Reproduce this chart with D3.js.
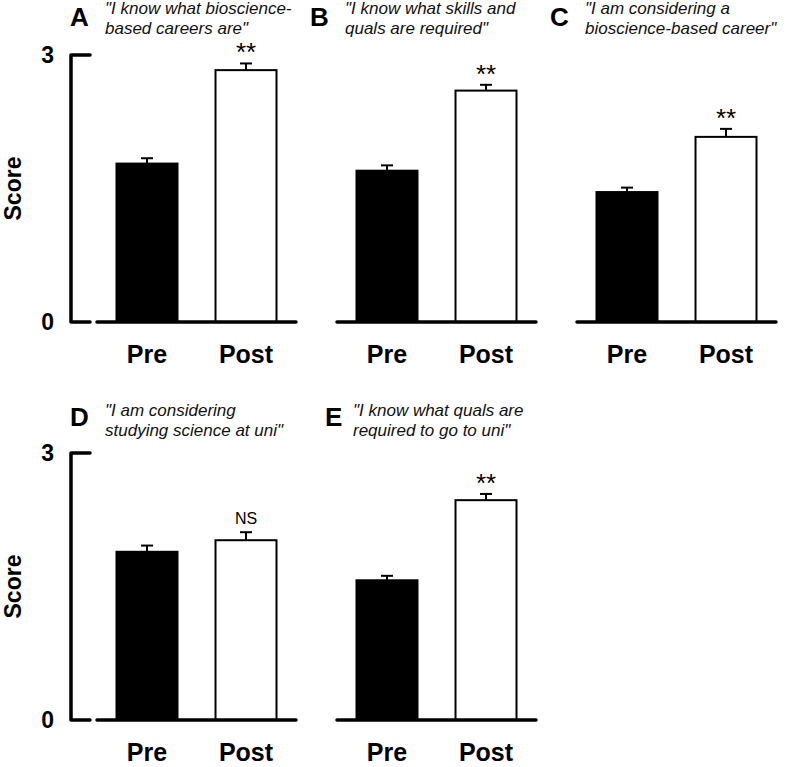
<!DOCTYPE html>
<html>
<head>
<meta charset="utf-8">
<script src="https://cdnjs.cloudflare.com/ajax/libs/d3/7.8.5/d3.min.js"></script>
<style>
  body { margin: 0; background: #fff; }
  text { font-family: "Liberation Sans", Arial, sans-serif; }
</style>
</head>
<body>
<svg id="chart" width="790" height="767"></svg>
<script>
// chart values
var panels = ["A", "B", "C", "D", "E"];
var quotes = [
    ["\"I know what bioscience-", "based careers are\""],
    ["\"I know what skills and", "quals are required\""],
    ["\"I am considering a", "bioscience-based career\""],
    ["\"I am considering", "studying science at uni\""],
    ["\"I know what quals are", "required to go to uni\""]
];
var groups = ["Pre", "Post"];
var preMean = [1.78, 1.70, 1.46, 1.89, 1.57];
var preErr = [0.06, 0.06, 0.05, 0.07, 0.05];
var postMean = [2.83, 2.60, 2.08, 2.02, 2.47];
var postErr = [0.075, 0.065, 0.09, 0.09, 0.07];
var signif = ["**", "**", "**", "NS", "**"];
var yTicks = [0, 3];

var svg = d3.select("#chart");

var colStep = 240, rowStep = 398;

function drawPanel(i) {
    var col = i < 3 ? i : i - 3;
    var row = i < 3 ? 0 : 1;
    var ox = col * colStep;
    var oy = row * rowStep;
    var g = svg.append("g").attr("transform", "translate(" + ox + "," + oy + ")");

    var y = d3.scaleLinear().domain([0, 3]).range([322, 55]);
    var x = d3.scaleBand().domain(groups).range([96, 297])
        .paddingInner(0.384).paddingOuter(0.207);

    // panel letter and quote
    var letterX = (i == 4) ? 85 : 70;
    var quoteX = (i == 4) ? 113 : 105;
    g.append("text")
        .attr("x", letterX).attr("y", 26 + (row ? 2 : 0))
        .attr("font-size", 26).attr("font-weight", "bold")
        .text(panels[i]);
    var q = g.append("text")
        .attr("x", quoteX).attr("y", 14 + (row ? 4 : 0))
        .attr("font-size", 17).attr("font-style", "italic")
        .attr("fill", "#111");
    quotes[i].forEach(function (line, k) {
        q.append("tspan").attr("x", quoteX).attr("dy", k == 0 ? 0 : 20).text(line);
    });

    // y axis only on first column
    if (col == 0) {
        g.append("path")
            .attr("d", "M90," + y(3) + "H71V" + y(0) + "H90")
            .attr("fill", "none").attr("stroke", "black")
            .attr("stroke-width", 3.5).attr("stroke-linecap", "round")
            .attr("stroke-linejoin", "round");
        g.selectAll(".ytick").data(yTicks).enter().append("text")
            .attr("x", 54).attr("y", function (d) { return y(d); })
            .attr("dy", "0.36em")
            .attr("text-anchor", "end")
            .attr("font-size", 23).attr("font-weight", "bold")
            .text(function (d) { return d; });
        g.append("text")
            .attr("transform", "translate(21," + ((y(0) + y(3)) / 2) + ") rotate(-90)")
            .attr("text-anchor", "middle")
            .attr("font-size", 23).attr("font-weight", "bold")
            .text("Score");
    }

    var vals = [preMean[i], postMean[i]];
    var errs = [preErr[i], postErr[i]];

    // error bars
    groups.forEach(function (grp, k) {
        var cx = x(grp) + x.bandwidth() / 2;
        g.append("line")
            .attr("x1", cx).attr("x2", cx)
            .attr("y1", y(vals[k])).attr("y2", y(vals[k] + errs[k]))
            .attr("stroke", "black").attr("stroke-width", 2);
        g.append("line")
            .attr("x1", cx - 6).attr("x2", cx + 6)
            .attr("y1", y(vals[k] + errs[k])).attr("y2", y(vals[k] + errs[k]))
            .attr("stroke", "black").attr("stroke-width", 2);
    });

    // bars
    g.selectAll(".bar").data(groups).enter().append("rect")
        .attr("x", function (d) { return x(d); })
        .attr("y", function (d, k) { return y(vals[k]); })
        .attr("width", x.bandwidth())
        .attr("height", function (d, k) { return y(0) - y(vals[k]); })
        .attr("fill", function (d, k) { return k == 0 ? "black" : "white"; })
        .attr("stroke", "black").attr("stroke-width", 2);

    // x axis line
    g.append("line")
        .attr("x1", 97).attr("x2", 296)
        .attr("y1", y(0)).attr("y2", y(0))
        .attr("stroke", "black").attr("stroke-width", 3.5)
        .attr("stroke-linecap", "round");

    // category labels
    g.selectAll(".xlab").data(groups).enter().append("text")
        .attr("x", function (d) { return x(d) + x.bandwidth() / 2; })
        .attr("y", y(0) + 41)
        .attr("text-anchor", "middle")
        .attr("font-size", 25).attr("font-weight", "bold")
        .text(function (d) { return d; });

    // significance
    var topY = y(postMean[i] + postErr[i]);
    var cxPost = x("Post") + x.bandwidth() / 2;
    if (signif[i] == "NS") {
        g.append("text")
            .attr("x", cxPost).attr("y", topY - 8)
            .attr("text-anchor", "middle").attr("font-size", 16)
            .text("NS");
    } else {
        g.append("text")
            .attr("x", cxPost).attr("y", topY - 2)
            .attr("text-anchor", "middle").attr("font-size", 26)
            .text(signif[i]);
    }
}

panels.forEach(function (p, i) { drawPanel(i); });
</script>
</body>
</html>
